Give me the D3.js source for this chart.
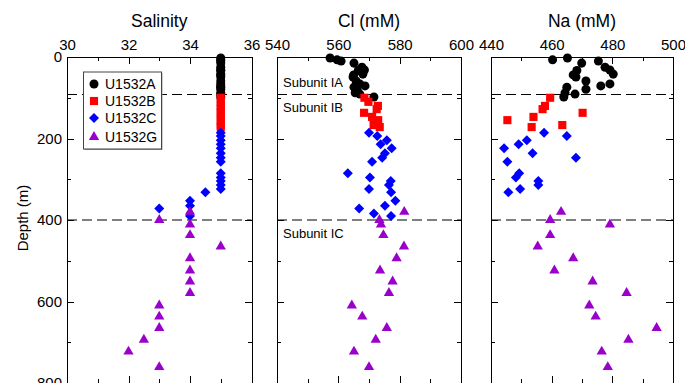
<!DOCTYPE html>
<html>
  <head>
    <meta charset="utf-8">
    <title>U1532 pore water salinity, Cl and Na</title>
    <script src="https://d3js.org/d3.v7.min.js"></script>
    <style>
      body { margin: 0; background: #fff; }
      svg { font-family: "Liberation Sans", Arial, Helvetica, sans-serif; display: block; }
      .axis path, .axis line { stroke: #000; shape-rendering: crispEdges; }
      .axis text { font-size: 15px; fill: #000; }
      .title { font-size: 17.5px; text-anchor: middle; }
      .subunit { font-size: 13px; }
      .legend text { font-size: 14px; }
    </style>
  </head>
  <body>
    <svg id="chart" width="685" height="383"></svg>
    <script>
      // holes
      var holes = ["U1532A", "U1532B", "U1532C", "U1532G"];
      // U1532A
      var depthA = [2.5, 7, 10, 15, 25, 32, 33, 42, 44, 49, 59, 66, 71, 74, 79, 88, 91, 98];
      var salA = [35, 35, 35, 35, 35, 35, 35, 35, 35, 35, 35, 35, 35, 35, 35, 35, 35, 35];
      var clA = [557.3, 559.6, 560.9, 565.1, 567.7, 568.5, 566.5, 568.0, 565.0, 564.8, 565.8, 567.0, 568.7, 565.1, 566.1, 565.5, 567.0, 571.6];
      var naA = [465.2, 460.3, 475.4, 469.9, 477.6, 479.2, 468.3, 480.3, 467.1, 468.0, 471.3, 479.2, 476.2, 465.0, 471.3, 464.4, 467.7, 464.0];
      // U1532B
      var depthB = [100, 110, 120, 128, 137, 147, 155, 167, 172];
      var salB = [35, 35, 35, 35, 35, 35, 35, 35, 35];
      var clB = [568.5, 569.8, 572.9, 572.5, 568.4, 571.0, 573.0, 571.5, 573.5];
      var naB = [459.5, null, 457.8, 457.0, 470.2, 454.0, 445.4, 463.5, 453.4];
      // U1532C
      var depthC = [186, 194, 204, 214, 224, 236, 247, 257, 285, 296, 304, 314, 324, 332, 353, 365, 372, 384, 390];
      var salC = [35, 35, 35, 35, 35, 35, 35, 35, 35, 35, 35, 35, 35, 34.5, 34, 34, 33, null, 34];
      var clC = [570.0, 572.7, 575.8, 573.8, 577.4, 575.2, 574.3, 571.0, 563.1, 570.3, 577.1, 576.5, 570.0, 577.2, 578.6, 575.2, 566.8, 571.6, 577.2];
      var naC = [457.5, 465.0, 451.8, 449.1, 444.3, 453.7, 468.0, 445.4, 449.3, 448.2, 455.6, 455.6, 449.6, 445.7, null, null, null, null, null];
      // U1532G
      var depthG = [380, 400, 411, 437, 465, 494, 524, 551, 579, 610, 637, 665, 694, 723, 761];
      var salG = [34, 33, 34, 34, 35, 34, 34, 34, 34, 33, 33, 33, 32.5, 32, 33];
      var clG = [581.5, 573.4, 573.9, 574.7, 581.4, 579.0, 573.6, 577.7, 576.5, 564.4, 567.8, 575.8, 572.2, 565.1, 570.0];
      var naG = [463.1, 459.5, 479.2, 459.5, 455.4, 467.1, 460.9, 473.5, 484.7, 472.4, 474.5, 494.6, 485.3, 476.5, 478.5];
      // lithologic unit boundaries (m) and labels
      var boundaries = [92, 400];
      var subunits = ["Subunit IA", "Subunit IB", "Subunit IC"];
      var depthTicks = [0, 200, 400, 600, 800];
      var depthMinor = [100, 300, 500, 700];

      var depths = [depthA, depthB, depthC, depthG];
      var panels = [
        { title: "Salinity", values: [salA, salB, salC, salG], domain: [30, 36], ticks: [30, 32, 34, 36], minor: [31, 33, 35], left: 67, right: 251.5 },
        { title: "Cl (mM)", values: [clA, clB, clC, clG], domain: [540, 600], ticks: [540, 560, 580, 600], minor: [550, 570, 590], left: 277, right: 461 },
        { title: "Na (mM)", values: [naA, naB, naC, naG], domain: [440, 500], ticks: [440, 460, 480, 500], minor: [450, 470, 490], left: 491, right: 673 }
      ];
      var colours = ["#000000", "#ff0000", "#0000ff", "#9900cc"];
      var shapes = [d3.symbolCircle, d3.symbolSquare, d3.symbolSquare, d3.symbolTriangle];
      var sizes = [64, 66, 50, 46];
      var turns = [0, 0, 45, 0];

      var svg = d3.select("#chart");
      var y = d3.scaleLinear().domain([0, 800]).range([57, 383]);

      function marker(i) {
        return d3.symbol().type(shapes[i]).size(sizes[i])();
      }

      panels.forEach(function(p, pi) {
        var x = d3.scaleLinear().domain(p.domain).range([p.left, p.right]);
        var g = svg.append("g");
        // minor ticks
        g.append("g").attr("class", "axis").attr("transform", "translate(0," + y(0) + ")")
          .call(d3.axisTop(x).tickValues(p.minor).tickSize(-4).tickSizeOuter(0).tickFormat(""));
        g.append("g").attr("class", "axis").attr("transform", "translate(0," + y(800) + ")")
          .call(d3.axisBottom(x).tickValues(p.minor).tickSize(-4).tickSizeOuter(0).tickFormat(""));
        g.append("g").attr("class", "axis").attr("transform", "translate(" + p.left + ",0)")
          .call(d3.axisLeft(y).tickValues(depthMinor).tickSize(-4).tickSizeOuter(0).tickFormat(""));
        g.append("g").attr("class", "axis").attr("transform", "translate(" + p.right + ",0)")
          .call(d3.axisRight(y).tickValues(depthMinor).tickSize(-4).tickSizeOuter(0).tickFormat(""));
        // major ticks
        g.append("g").attr("class", "axis").attr("transform", "translate(0," + y(0) + ")")
          .call(d3.axisTop(x).tickValues(p.ticks).tickSize(-7).tickSizeOuter(0).tickPadding(7.5).tickFormat(d3.format("d")));
        g.append("g").attr("class", "axis").attr("transform", "translate(0," + y(800) + ")")
          .call(d3.axisBottom(x).tickValues(p.ticks).tickSize(-7).tickSizeOuter(0).tickFormat(""));
        g.append("g").attr("class", "axis").attr("transform", "translate(" + p.left + ",0)")
          .call(d3.axisLeft(y).tickValues(depthTicks).tickSize(-7).tickSizeOuter(0).tickPadding(5)
            .tickFormat(pi === 0 ? d3.format("d") : ""));
        g.append("g").attr("class", "axis").attr("transform", "translate(" + p.right + ",0)")
          .call(d3.axisRight(y).tickValues(depthTicks).tickSize(-7).tickSizeOuter(0).tickFormat(""));
        g.selectAll(".axis text").attr("font-family", null).attr("font-size", null);

        // title
        g.append("text").attr("class", "title")
          .attr("x", (p.left + p.right) / 2).attr("y", 27)
          .text(p.title);

        // unit boundaries
        g.selectAll(".boundary").data(boundaries).enter().append("line")
          .attr("class", "boundary")
          .attr("x1", p.left).attr("x2", p.right)
          .attr("y1", function(d) { return y(d); }).attr("y2", function(d) { return y(d); })
          .attr("stroke", "#000").attr("stroke-width", 1.2).attr("stroke-dasharray", "10,5");

        // data points, hole by hole
        holes.forEach(function(h, hi) {
          var pts = depths[hi].map(function(d, k) { return { depth: d, value: p.values[hi][k] }; })
            .filter(function(d) { return d.value !== null; });
          g.selectAll(".pt" + hi).data(pts).enter().append("path")
            .attr("class", "pt" + hi)
            .attr("d", marker(hi))
            .attr("fill", colours[hi])
            .attr("transform", function(d) {
              return "translate(" + x(d.value) + "," + y(d.depth) + ") rotate(" + turns[hi] + ")";
            });
        });
      });

      // subunit labels in the Cl panel
      var subY = [y(73), y(134), y(444)];
      svg.selectAll(".subunit").data(subunits).enter().append("text")
        .attr("class", "subunit")
        .attr("x", panels[1].left + 6)
        .attr("y", function(d, i) { return subY[i]; })
        .text(function(d) { return d; });

      // depth label
      svg.append("text")
        .attr("transform", "translate(27.5,218) rotate(-90)")
        .attr("text-anchor", "middle")
        .attr("font-size", 15)
        .text("Depth (m)");

      // legend
      var legend = svg.append("g").attr("class", "legend");
      legend.append("rect")
        .attr("x", 84.5).attr("y", 73).attr("width", 78).attr("height", 77)
        .attr("fill", "#999");
      legend.append("rect")
        .attr("x", 83.5).attr("y", 72).attr("width", 78).attr("height", 77)
        .attr("fill", "#fff").attr("stroke", "#444").attr("stroke-width", 1);
      var rowsY = [84, 101, 118, 137];
      holes.forEach(function(h, hi) {
        legend.append("path")
          .attr("d", marker(hi))
          .attr("fill", colours[hi])
          .attr("transform", "translate(94," + rowsY[hi] + ") rotate(" + turns[hi] + ")");
        legend.append("text")
          .attr("x", 105).attr("y", rowsY[hi]).attr("dy", "0.36em")
          .text(h);
      });
    </script>
  </body>
</html>
